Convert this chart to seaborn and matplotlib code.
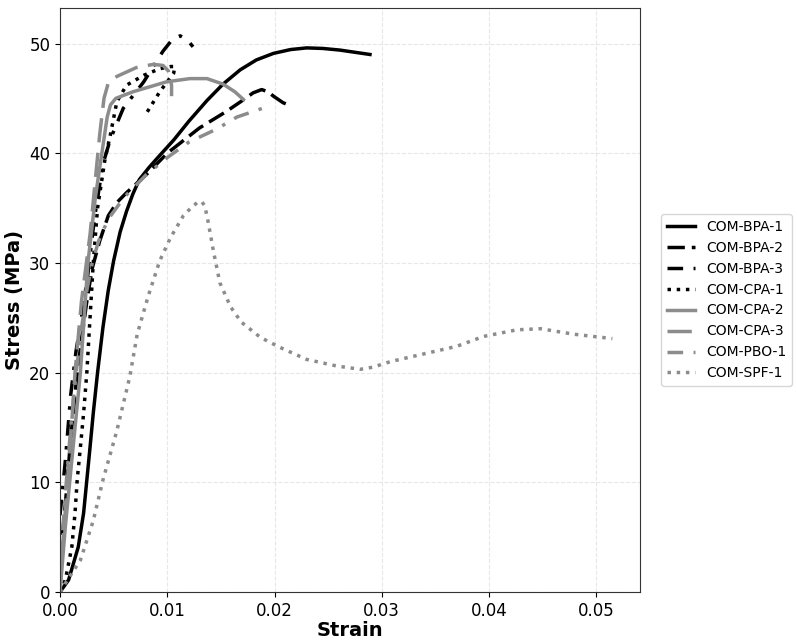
import matplotlib
matplotlib.use("Agg")
import matplotlib.pyplot as plt
import seaborn as sns

# strain / stress curves
bpa1_x = [0, 0.0008, 0.0017, 0.0022, 0.0025, 0.0028, 0.0031, 0.0035, 0.004, 0.0045, 0.005, 0.0056, 0.0062, 0.0068, 0.0074, 0.0083, 0.0093, 0.0106, 0.012, 0.0137, 0.0152, 0.0168, 0.0183, 0.0199, 0.0215, 0.023, 0.0245, 0.0261, 0.0275, 0.0289]
bpa1_y = [0, 1.1, 4.1, 7.2, 10.2, 13.2, 16.3, 20, 24.1, 27.5, 30.2, 32.8, 34.7, 36.3, 37.6, 38.7, 39.8, 41.2, 42.9, 44.8, 46.3, 47.6, 48.5, 49.1, 49.45, 49.6, 49.55, 49.4, 49.2, 49.0]

bpa2_x = [0, 0.0005, 0.001, 0.0015, 0.002, 0.0025, 0.003, 0.0037, 0.0045, 0.0053, 0.0062, 0.0081, 0.010, 0.013, 0.0155, 0.017, 0.018, 0.0188, 0.0194, 0.0199, 0.0208, 0.0216]
bpa2_y = [3, 8, 14, 19, 23, 26.5, 29.5, 32, 34.3, 35.5, 36.4, 38.1, 40, 42.3, 43.8, 44.8, 45.5, 45.8, 45.6, 45.2, 44.6, 44.3]

bpa3_x = [0, 0.0005, 0.001, 0.0015, 0.002, 0.0026, 0.0032, 0.004, 0.0047, 0.0059, 0.0078, 0.0096, 0.0105, 0.0112, 0.0119, 0.0124]
bpa3_y = [7, 12, 18, 22, 25, 29, 34, 39, 41.3, 44.1, 46.5, 49.3, 50.4, 50.7, 50.3, 49.7]

cpa1_x = [0, 0.0005, 0.0011, 0.0014, 0.0016, 0.0019, 0.0022, 0.0025, 0.0031, 0.0035, 0.0042, 0.0047, 0.0053, 0.0062, 0.0078, 0.0093, 0.0103, 0.0107, 0.0106, 0.0093, 0.0079]
cpa1_y = [0, 1.1, 4.1, 7.2, 10.2, 13.2, 16.3, 20, 30, 35, 39.5, 41.7, 44.7, 46.2, 47.1, 47.7, 47.9, 47.9, 47.3, 45.6, 43.4]

cpa2_x = [0, 0.0005, 0.001, 0.0015, 0.0019, 0.0026, 0.0033, 0.0039, 0.0044, 0.0047, 0.0052, 0.0068, 0.0099, 0.0121, 0.0137, 0.0152, 0.0163, 0.0171]
cpa2_y = [0, 6, 11, 16, 20, 30, 36, 40, 43.3, 44.4, 45.0, 45.6, 46.5, 46.8, 46.8, 46.3, 45.6, 44.9]

cpa3_x = [0, 0.0003, 0.0007, 0.001, 0.0014, 0.002, 0.0028, 0.0037, 0.0041, 0.0045, 0.0053, 0.0071, 0.0087, 0.0096, 0.0101, 0.0104, 0.0104]
cpa3_y = [0, 5, 10, 14, 20, 26.5, 32.6, 41.7, 45.0, 46.4, 47.0, 47.8, 48.1, 48.0, 47.5, 46.2, 45.2]

pbo1_x = [0, 0.0005, 0.001, 0.0015, 0.002, 0.0025, 0.003, 0.0036, 0.0045, 0.006, 0.008, 0.010, 0.012, 0.0146, 0.0165, 0.0195]
pbo1_y = [2, 9, 15, 20, 24, 27.5, 30, 32, 34, 36, 38, 39.6, 41, 42.2, 43.3, 44.3]

spf1_x = [0, 0.0005, 0.0019, 0.0031, 0.004, 0.0053, 0.0065, 0.0072, 0.0082, 0.0093, 0.0103, 0.0115, 0.0123, 0.0128, 0.0132, 0.0135, 0.0138, 0.0143, 0.0149, 0.0159, 0.0169, 0.0187, 0.0205, 0.023, 0.0258, 0.028, 0.0292, 0.0308, 0.0339, 0.037, 0.0395, 0.0426, 0.0448, 0.0479, 0.0515]
spf1_y = [0, 0.8, 2.9, 6.5, 10.2, 14.7, 19.6, 23.5, 26.9, 30.2, 32.3, 34.3, 35.1, 35.5, 35.6, 35.2, 33.8, 31.1, 28.2, 26, 24.6, 23.2, 22.3, 21.2, 20.6, 20.3, 20.5, 21, 21.7, 22.4, 23.3, 23.9, 24.0, 23.5, 23.1]

names = ["COM-BPA-1", "COM-BPA-2", "COM-BPA-3", "COM-CPA-1", "COM-CPA-2", "COM-CPA-3", "COM-PBO-1", "COM-SPF-1"]
xs = [bpa1_x, bpa2_x, bpa3_x, cpa1_x, cpa2_x, cpa3_x, pbo1_x, spf1_x]
ys = [bpa1_y, bpa2_y, bpa3_y, cpa1_y, cpa2_y, cpa3_y, pbo1_y, spf1_y]

gray = "#8c8c8c"
colors = ["black"] * 4 + [gray] * 4
styles = ["-", (0, (5, 2)), (0, (4.5, 3, 1, 3)), (0, (1, 1.65)),
          "-", (0, (7, 3)), (0, (4.5, 3, 1, 3)), (0, (1, 1.65))]

fig = plt.figure(figsize=(7.97, 6.42), dpi=100)
ax = fig.add_axes([0.0753, 0.0779, 0.7277, 0.9096])

for name, x, y, c, ls in zip(names, xs, ys, colors, styles):
    sns.lineplot(x=x, y=y, ax=ax, color=c, linestyle=ls, linewidth=2.5,
                 label=name, sort=False, estimator=None)

ax.set_xlim(left=0)
ax.set_ylim(bottom=0)
ax.grid(True, linestyle="--", alpha=0.3)
ax.set_xlabel("Strain", fontsize=14, fontweight="bold", labelpad=1)
ax.set_ylabel("Stress (MPa)", fontsize=14, fontweight="bold")
ax.tick_params(labelsize=12)
for s in ax.spines.values():
    s.set_color("#333333")

ax.legend(loc="center left", bbox_to_anchor=(1.025, 0.5), fontsize=10)

fig.savefig("out.png", dpi=100)
